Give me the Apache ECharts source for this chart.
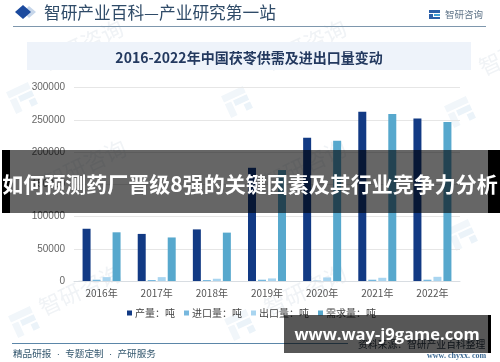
<!DOCTYPE html>
<html>
<head>
<meta charset="utf-8">
<style>
  html,body{margin:0;padding:0;background:#fff}
  #chart{width:500px;height:362px}
</style>
<script src="https://cdn.jsdelivr.net/npm/echarts@6/dist/echarts.min.js"></script>
</head>
<body>
<div id="chart"></div>
<script>
const years = ['2016年','2017年','2018年','2019年','2020年','2021年','2022年']
const seriesNames = ['产量：吨','进口量：吨','出口量：吨','需求量：吨']
const output = [81000,73000,80000,175500,222000,262500,252000]
const imports = [2000,1500,1500,2000,500,2000,2000]
const exports_ = [6000,6000,3500,4000,5500,5000,6500]
const demand = [75500,67500,75000,172000,217500,259000,246500]
const yTicks = {max:300000,interval:50000}

const CJK = '"Noto Sans CJK SC"'

const rect = (x,y,width,height,fill,z)=>({type:'rect',z,silent:true,shape:{x,y,width,height},style:{fill}})
const label = (x,y,text,font,fill,z,extra)=>({type:'text',z,silent:true,x,y,style:Object.assign({text,font,fill,textAlign:'left',textVerticalAlign:'middle'},extra||{})})

// 水印
const watermarkText = (x,y)=>({type:'text',z:-2,silent:true,x,y,rotation:Math.PI*25/180,
  style:{text:'智研咨询',font:'22px '+CJK,fill:'#f0f3f6',textAlign:'center',textVerticalAlign:'middle'}})
const watermarkLogo = (x,y)=>({type:'group',z:-2,silent:true,x,y,rotation:Math.PI*25/180,children:[
  {type:'rect',z:-2,shape:{x:-12,y:-12,width:24,height:7},style:{fill:'#f1f6fa'}},
  {type:'rect',z:-2,shape:{x:-12,y:-3,width:7,height:15},style:{fill:'#f1f6fa'}},
  {type:'rect',z:-2,shape:{x:-3,y:-3,width:15,height:6},style:{fill:'#ebf3f9'}},
  {type:'rect',z:-2,shape:{x:5,y:5,width:7,height:7},style:{fill:'#ebf3f9'}}
]})

const graphics = [
  watermarkText(82,45),watermarkText(305,45),watermarkText(85,165),watermarkText(305,165),
  watermarkText(80,290),watermarkText(305,290),watermarkText(520,50),
  watermarkLogo(22,98),watermarkLogo(237,102),watermarkLogo(460,112),
  watermarkLogo(24,322),watermarkLogo(240,325),watermarkLogo(462,235),

  // 页头
  {type:'polygon',z:1,silent:true,shape:{points:[[23,5],[31,12],[23,19],[15,12]]},style:{fill:'#1b4a9e'}},
  {type:'polygon',z:0,silent:true,shape:{points:[[29,6],[36,12],[29,18],[23,12]]},style:{fill:'#c6d6ea'}},
  label(44,13,'智研产业百科—产业研究第一站','16.7px '+CJK,'#2f4b68',1),
  rect(13,26,473,1,'#7e97ad',1),
  rect(429,10,11,3,'#2a5fa8',1),rect(429,14,4,5,'#2a5fa8',1),rect(434,14,6,2,'#3fa0d8',1),rect(429,17,11,2,'#2a5fa8',1),
  label(445,14.5,'智研咨询','9.5px '+CJK,'#5f7488',1),

  // 标题
  rect(27,42,444,28,'#eef3fa',-1),
  {type:'text',z:1,silent:true,x:249,y:58,style:{text:'2016-2022年中国茯苓供需及进出口量变动',font:'bold 14px '+CJK,fill:'#23395f',textAlign:'center',textVerticalAlign:'middle'}},

  // 页脚
  rect(12,343,336,1,'#5b86a8',1),
  label(13,354,'精品研报  ·  专题定制  ·  产研服务','9.6px "Liberation Sans",'+CJK,'#35586f',1),
  label(358,344,'资料来源：智研产业百科整理','9.8px '+CJK,'#2b3a48',1),
  label(427,356,'www. chyxx. com','bold 8px "Liberation Serif"','#3d6a93',1),

  // 横幅
  rect(2,150,8,63,'#000',100),
  rect(10,150,478,63,'rgba(0,0,0,0.6)',100),
  rect(488,150,12,63,'#000',100),
  {type:'text',z:101,silent:true,x:250,y:184,style:{text:'如何预测药厂晋级8强的关键因素及其行业竞争力分析',font:'bold 21px '+CJK,fill:'#fff',textAlign:'center',textVerticalAlign:'middle'}},
  rect(284,315,204,38,'rgba(0,0,0,0.66)',100),
  rect(488,315,3,38,'#000',100),
  {type:'text',z:101,silent:true,x:387,y:335,style:{text:'www.way-j9game.com',font:'bold 16.5px "Open Sans"',fill:'#fff',textAlign:'center',textVerticalAlign:'middle'}}
]

const barColors = ['#123a84','#77b8de','#a9d5f0','#57a8cd']
const values = [output,imports,exports_,demand]

const chart = echarts.init(document.getElementById('chart'),null,{renderer:'canvas'})
chart.setOption({
  animation:false,
  backgroundColor:'#fff',
  color:barColors,
  grid:{left:74,right:40,top:87.5,bottom:81},
  legend:{
    left:122,top:303,
    icon:'rect',itemWidth:5,itemHeight:5,itemGap:9,
    data:seriesNames,
    textStyle:{fontFamily:CJK,fontSize:10,color:'#444',padding:[0,0,0,-2]}
  },
  xAxis:{
    type:'category',data:years,
    axisTick:{show:false},
    axisLine:{lineStyle:{color:'#d8dde2'}},
    axisLabel:{fontFamily:CJK,fontSize:10,color:'#555',margin:7}
  },
  yAxis:{
    type:'value',min:0,max:yTicks.max,interval:yTicks.interval,
    axisLine:{show:false},
    axisTick:{show:false},
    splitLine:{lineStyle:{color:'#e6e6e6'}},
    axisLabel:{fontFamily:'"Liberation Sans"',fontSize:10,color:'#666',margin:9,formatter:v=>String(v)}
  },
  series:seriesNames.map((name,i)=>({
    name,type:'bar',data:values[i],barWidth:8,barGap:'25%',
    itemStyle:{color:barColors[i]}
  })),
  graphic:{elements:graphics}
})
</script>
</body>
</html>
